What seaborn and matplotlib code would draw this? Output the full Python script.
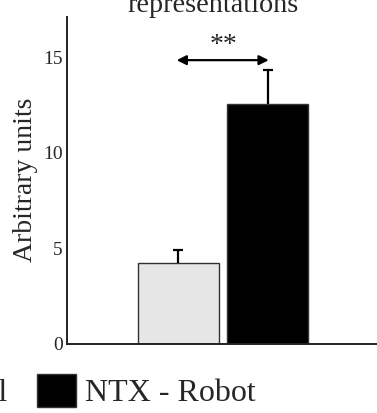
import matplotlib
matplotlib.use("Agg")
import matplotlib.pyplot as plt
import pandas as pd
import seaborn as sns

# data
groups = ["NTX - Control", "NTX - Robot"]
means = [4.2, 12.55]
errs = [0.7, 1.78]
bar_colors = ["#e6e6e6", "#000000"]
yticks = [0, 5, 10, 15]

df = pd.DataFrame({"group": groups, "value": means})

sns.set_theme(style="white")
plt.rcParams['font.family'] = ['Liberation Serif', 'DejaVu Serif']

fig = plt.figure(figsize=(3.77, 4.13), dpi=100)
# axes runs off the right edge like the cropped original
ax = fig.add_axes([67 / 377, 69.5 / 413, 335 / 377, 326.5 / 413])

sns.barplot(data=df, x="group", y="value", hue="group", palette=bar_colors,
            width=0.905, edgecolor="#333333", linewidth=1.0, legend=False, ax=ax)

# one-sided error bars (upper cap only)
eb = ax.errorbar([0, 1], means, yerr=[[0, 0], errs], fmt="none", ecolor="black",
                 elinewidth=1.6, capsize=3.5, capthick=1.6)
eb[1][0].set_visible(False)

ax.set_xlim(-1.246, 2.5)
ax.set_ylim(0, 17.1)
ax.set_yticks(yticks)
ax.set_xticks([])
ax.set_xlabel("")
ax.set_ylabel("Arbitrary units", fontsize=20, labelpad=4)
ax.tick_params(axis="y", length=0, pad=3, labelsize=14)
for s in ["top", "right"]:
    ax.spines[s].set_visible(False)
for s in ["left", "bottom"]:
    ax.spines[s].set_color("#222222")
    ax.spines[s].set_linewidth(1.4)

# significance arrow
ax.annotate("", xy=(-0.02, 14.84), xytext=(1.01, 14.84),
            arrowprops=dict(arrowstyle="<|-|>", color="black", lw=1.6,
                            mutation_scale=14, shrinkA=0, shrinkB=0))
ax.text(0.5, 14.95, "**", ha="center", va="bottom", fontsize=20)

# title, cut off at the top
fig.text(213 / 377, (413 - 12) / 413, "Mental\nrepresentations", ha="center",
         va="baseline", fontsize=20.3, linespacing=1.1)

# legend, cut off at the left
handles = [plt.Rectangle((0, 0), 1, 1, facecolor=c, edgecolor="#333333", lw=1.0)
           for c in bar_colors]
fig.legend(handles, groups, loc="center right", bbox_to_anchor=(256 / 377, 1 - 391 / 413),
           ncol=2, frameon=False, fontsize=23, handlelength=1.2, handleheight=1.2,
           handletextpad=0.3, columnspacing=0.95, borderpad=0, borderaxespad=0)

fig.savefig("out.png", dpi=100)
